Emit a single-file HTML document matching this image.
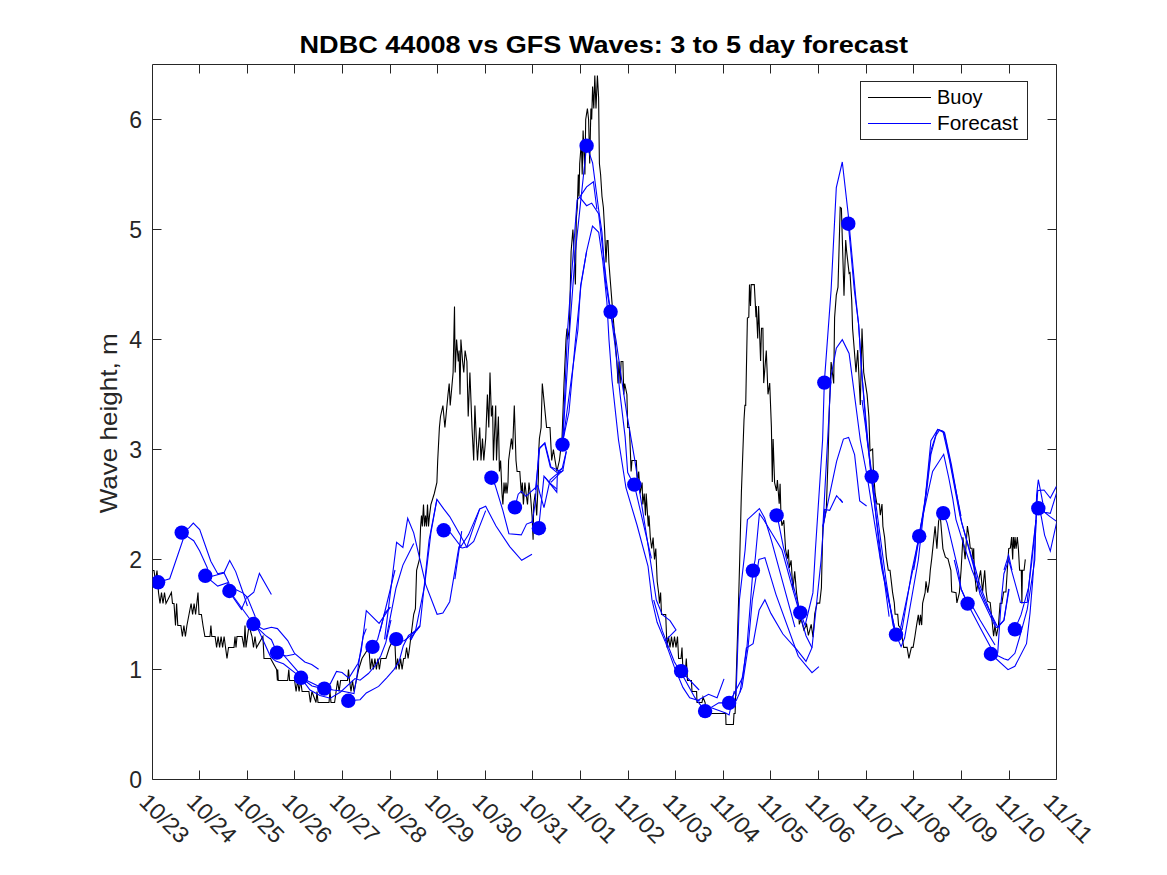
<!DOCTYPE html><html><head><meta charset="utf-8"><style>html,body{margin:0;padding:0;background:#fff;}svg{display:block;}text{font-family:"Liberation Sans",sans-serif;}</style></head><body>
<svg width="1167" height="875" viewBox="0 0 1167 875">
<rect width="1167" height="875" fill="#fff"/>
<defs><clipPath id="ax"><rect x="152.5" y="64.5" width="904" height="715"/></clipPath></defs>
<path d="M152.5,64.5H1056.5V779.5H152.5ZM199.5,779.5v-9M199.5,64.5v9M247.5,779.5v-9M247.5,64.5v9M294.5,779.5v-9M294.5,64.5v9M342.5,779.5v-9M342.5,64.5v9M390.5,779.5v-9M390.5,64.5v9M437.5,779.5v-9M437.5,64.5v9M485.5,779.5v-9M485.5,64.5v9M532.5,779.5v-9M532.5,64.5v9M580.5,779.5v-9M580.5,64.5v9M628.5,779.5v-9M628.5,64.5v9M675.5,779.5v-9M675.5,64.5v9M723.5,779.5v-9M723.5,64.5v9M770.5,779.5v-9M770.5,64.5v9M818.5,779.5v-9M818.5,64.5v9M866.5,779.5v-9M866.5,64.5v9M913.5,779.5v-9M913.5,64.5v9M961.5,779.5v-9M961.5,64.5v9M1009.5,779.5v-9M1009.5,64.5v9M152.5,779.5h9M1056.5,779.5h-9M152.5,669.5h9M1056.5,669.5h-9M152.5,559.5h9M1056.5,559.5h-9M152.5,449.5h9M1056.5,449.5h-9M152.5,339.5h9M1056.5,339.5h-9M152.5,229.5h9M1056.5,229.5h-9M152.5,119.5h9M1056.5,119.5h-9" fill="none" stroke="#262626" stroke-width="1"/>
<text x="142" y="787.7" font-size="23" fill="#262626" text-anchor="end">0</text>
<text x="142" y="677.7" font-size="23" fill="#262626" text-anchor="end">1</text>
<text x="142" y="567.7" font-size="23" fill="#262626" text-anchor="end">2</text>
<text x="142" y="457.7" font-size="23" fill="#262626" text-anchor="end">3</text>
<text x="142" y="347.7" font-size="23" fill="#262626" text-anchor="end">4</text>
<text x="142" y="237.7" font-size="23" fill="#262626" text-anchor="end">5</text>
<text x="142" y="127.7" font-size="23" fill="#262626" text-anchor="end">6</text>
<text transform="translate(138.0,803.2) rotate(45)" font-size="23" fill="#262626" textLength="58.9" lengthAdjust="spacingAndGlyphs">10/23</text>
<text transform="translate(185.57999999999998,803.2) rotate(45)" font-size="23" fill="#262626" textLength="58.9" lengthAdjust="spacingAndGlyphs">10/24</text>
<text transform="translate(233.16,803.2) rotate(45)" font-size="23" fill="#262626" textLength="58.9" lengthAdjust="spacingAndGlyphs">10/25</text>
<text transform="translate(280.74,803.2) rotate(45)" font-size="23" fill="#262626" textLength="58.9" lengthAdjust="spacingAndGlyphs">10/26</text>
<text transform="translate(328.32,803.2) rotate(45)" font-size="23" fill="#262626" textLength="58.9" lengthAdjust="spacingAndGlyphs">10/27</text>
<text transform="translate(375.9,803.2) rotate(45)" font-size="23" fill="#262626" textLength="58.9" lengthAdjust="spacingAndGlyphs">10/28</text>
<text transform="translate(423.48,803.2) rotate(45)" font-size="23" fill="#262626" textLength="58.9" lengthAdjust="spacingAndGlyphs">10/29</text>
<text transform="translate(471.06,803.2) rotate(45)" font-size="23" fill="#262626" textLength="58.9" lengthAdjust="spacingAndGlyphs">10/30</text>
<text transform="translate(518.64,803.2) rotate(45)" font-size="23" fill="#262626" textLength="58.9" lengthAdjust="spacingAndGlyphs">10/31</text>
<text transform="translate(566.22,803.2) rotate(45)" font-size="23" fill="#262626" textLength="58.9" lengthAdjust="spacingAndGlyphs">11/01</text>
<text transform="translate(613.8,803.2) rotate(45)" font-size="23" fill="#262626" textLength="58.9" lengthAdjust="spacingAndGlyphs">11/02</text>
<text transform="translate(661.38,803.2) rotate(45)" font-size="23" fill="#262626" textLength="58.9" lengthAdjust="spacingAndGlyphs">11/03</text>
<text transform="translate(708.96,803.2) rotate(45)" font-size="23" fill="#262626" textLength="58.9" lengthAdjust="spacingAndGlyphs">11/04</text>
<text transform="translate(756.54,803.2) rotate(45)" font-size="23" fill="#262626" textLength="58.9" lengthAdjust="spacingAndGlyphs">11/05</text>
<text transform="translate(804.12,803.2) rotate(45)" font-size="23" fill="#262626" textLength="58.9" lengthAdjust="spacingAndGlyphs">11/06</text>
<text transform="translate(851.6999999999999,803.2) rotate(45)" font-size="23" fill="#262626" textLength="58.9" lengthAdjust="spacingAndGlyphs">11/07</text>
<text transform="translate(899.28,803.2) rotate(45)" font-size="23" fill="#262626" textLength="58.9" lengthAdjust="spacingAndGlyphs">11/08</text>
<text transform="translate(946.86,803.2) rotate(45)" font-size="23" fill="#262626" textLength="58.9" lengthAdjust="spacingAndGlyphs">11/09</text>
<text transform="translate(994.4399999999999,803.2) rotate(45)" font-size="23" fill="#262626" textLength="58.9" lengthAdjust="spacingAndGlyphs">11/10</text>
<text transform="translate(1042.02,803.2) rotate(45)" font-size="23" fill="#262626" textLength="58.9" lengthAdjust="spacingAndGlyphs">11/11</text>
<text transform="translate(117,423.3) rotate(-90)" font-size="24.5" fill="#262626" text-anchor="middle" textLength="180" lengthAdjust="spacingAndGlyphs">Wave height, m</text>
<text x="603.8" y="53.1" font-size="23.5" font-weight="bold" fill="#000" text-anchor="middle" textLength="608.5" lengthAdjust="spacingAndGlyphs">NDBC 44008 vs GFS Waves: 3 to 5 day forecast</text>
<g clip-path="url(#ax)">
<polyline points="152.5,570.5 154.0,570.5 155.5,581.5 157.0,570.5 158.5,592.5 160.0,603.5 161.5,592.5 163.0,603.5 164.5,592.5 166.0,603.5 171.4,592.5 172.5,603.5 174.0,603.5 175.5,625.5 176.6,603.5 177.8,625.5 180.9,625.5 182.4,636.5 183.9,625.5 185.4,636.5 186.9,625.5 189.0,614.5 191.1,603.5 192.6,614.5 194.1,603.5 195.6,614.5 198.0,592.5 199.0,614.5 201.4,614.5 203.0,625.5 204.9,636.5 210.0,636.5 210.9,625.5 211.8,636.5 215.1,636.5 216.6,647.5 218.1,636.5 219.6,647.5 221.1,636.5 222.6,647.5 224.1,636.5 227.0,658.5 228.5,647.5 234.0,647.5 235.0,636.5 236.0,647.5 237.0,636.5 242.0,636.5 244.0,647.5 245.0,625.5 246.0,647.5 247.5,636.5 249.0,625.5 252.0,636.5 253.5,647.5 255.0,636.5 256.5,647.5 262.9,636.5 264.0,658.5 270.6,658.5 276.6,669.5 277.4,680.5 277.7,669.5 278.3,680.5 287.7,680.5 288.8,669.5 289.6,680.5 294.6,680.5 296.1,691.5 297.6,680.5 299.1,691.5 300.6,680.5 302.1,691.5 308.9,691.5 310.4,702.5 311.9,691.5 316.0,702.5 317.0,691.5 318.0,702.5 329.0,702.5 330.0,691.5 331.0,702.5 334.6,702.5 336.1,691.5 337.6,680.5 339.1,691.5 340.6,680.5 347.5,680.5 348.5,669.5 349.5,680.5 351.0,691.5 352.5,680.5 354.0,691.5 358.6,669.5 362.0,658.5 368.9,647.5 370.4,669.5 371.9,658.5 373.4,669.5 374.9,658.5 376.4,669.5 377.9,658.5 379.4,669.5 380.9,658.5 386.0,658.5 389.4,647.5 394.6,636.5 396.1,669.5 397.6,658.5 399.1,669.5 400.6,658.5 402.1,669.5 403.6,658.5 405.1,658.5 406.6,647.5 408.1,658.5 409.6,647.5 413.7,614.3 415.4,608.6 416.6,570.3 419.4,559.4 420.6,526.5 421.5,515.5 422.3,526.5 423.5,504.5 424.5,526.5 425.5,515.5 426.5,526.5 427.5,504.5 428.5,526.5 429.5,515.5 430.9,504.5 434.3,493.5 436.9,482.5 437.7,460.5 439.4,427.5 440.5,416.5 442.9,405.5 444.9,427.5 448.0,394.5 449.2,383.5 450.2,405.5 453.1,372.5 454.5,306.5 455.2,372.5 456.6,339.5 457.4,350.5 458.3,361.5 459.1,350.5 460.0,394.5 460.9,339.5 462.6,361.5 463.8,372.5 465.1,350.5 466.9,361.5 468.2,416.5 469.9,372.5 472.0,427.5 473.7,460.5 474.9,405.5 476.3,438.5 477.5,460.5 479.7,427.5 481.0,460.5 482.5,438.5 483.8,460.5 485.7,438.5 487.4,394.5 488.8,427.5 490.0,372.5 491.4,416.5 492.6,405.5 493.4,460.5 494.3,438.5 495.7,405.5 496.5,460.5 497.4,438.5 498.4,416.5 499.4,471.5 500.6,460.5 502.0,493.5 502.9,504.5 504.0,482.5 505.0,493.5 506.0,482.5 507.0,493.5 508.0,482.5 508.6,460.5 511.4,438.5 512.6,449.5 514.3,405.5 516.0,460.5 517.1,471.5 519.8,471.5 521.3,493.5 522.3,482.5 523.4,504.5 524.9,482.5 526.5,496.8 527.5,504.5 529.0,482.5 530.6,496.8 532.1,516.6 533.1,539.7 533.7,504.5 535.2,493.5 536.7,515.5 538.3,480.3 538.8,449.5 539.4,438.5 541.1,427.5 542.3,383.5 546.6,427.5 550.0,427.5 551.7,460.5 553.4,449.5 555.1,460.5 556.9,471.5 559.4,460.5 562.0,438.5 564.0,383.5 566.0,339.5 567.0,328.5 567.7,339.5 569.4,328.5 571.1,251.5 572.0,240.5 572.9,229.5 574.0,251.5 575.4,284.5 576.3,218.5 577.3,207.5 578.3,174.5 579.0,196.5 579.7,163.5 581.4,141.5 582.2,174.5 583.1,130.5 584.9,174.5 585.7,119.5 587.4,108.5 588.6,119.5 589.7,163.5 590.9,108.5 591.7,119.5 592.6,86.5 593.8,108.5 594.8,75.5 596.0,108.5 597.4,75.5 598.6,97.5 599.4,163.5 600.6,174.5 602.0,196.5 603.4,207.5 604.6,229.5 606.0,262.5 607.0,240.5 608.0,240.5 608.9,262.5 610.6,284.5 612.3,306.5 615.0,339.5 616.9,361.5 618.0,383.5 619.0,361.5 620.2,383.5 621.1,361.5 622.9,361.5 623.8,394.5 624.7,383.5 626.9,394.5 627.7,427.5 629.4,427.5 630.3,449.5 631.1,471.5 632.0,460.5 634.6,460.5 636.3,460.5 637.3,482.5 638.7,471.5 640.1,493.5 642.1,482.5 642.8,504.5 644.2,493.5 645.5,515.5 646.2,493.5 648.3,526.5 649.0,515.5 650.3,537.5 651.7,548.5 653.1,537.5 654.5,559.5 655.8,548.5 657.2,581.5 658.6,592.5 659.5,603.5 660.6,592.5 661.5,614.5 665.7,614.5 667.0,647.5 668.5,636.5 670.0,647.5 671.5,636.5 673.0,647.5 674.5,636.5 676.0,647.5 677.5,636.5 678.6,658.5 681.0,658.5 682.0,647.5 682.9,669.5 685.5,669.5 686.3,658.5 687.5,680.5 691.4,680.5 692.0,691.5 696.6,691.5 697.0,702.5 702.0,702.5 703.0,697.0 705.1,702.5 706.0,713.5 725.7,713.5 726.0,724.5 733.4,724.5 734.0,713.5 735.1,713.5 738.6,600.2 739.7,560.0 741.4,492.3 744.0,420.0 744.9,405.4 745.7,405.4 747.4,318.0 748.8,317.1 749.5,284.6 750.5,306.0 751.2,284.6 754.3,284.6 756.0,317.1 756.3,306.0 757.7,338.6 758.6,306.0 760.6,360.9 761.5,328.3 762.9,328.3 763.7,383.1 766.3,350.6 768.0,394.3 769.7,383.1 771.4,427.1 772.3,482.0 773.1,439.1 774.6,482.7 776.5,491.0 777.4,480.0 779.2,503.8 780.1,483.7 781.0,516.6 781.9,525.7 783.8,520.2 785.6,549.5 787.4,558.6 788.3,549.5 789.3,567.8 791.1,560.4 792.9,589.7 794.7,571.4 796.6,593.3 798.4,606.1 799.3,624.4 801.1,618.9 803.9,629.9 806.6,624.4 808.4,635.4 811.2,624.4 813.0,637.2 814.8,613.5 817.1,603.1 819.7,603.1 821.4,587.7 822.3,550.0 822.9,526.6 826.3,509.4 828.0,459.7 829.4,406.6 831.1,362.0 833.7,383.4 834.6,317.4 836.3,295.1 838.0,287.1 840.2,207.4 841.4,208.3 844.0,295.7 845.7,240.0 846.6,251.1 849.1,273.4 850.0,272.6 851.7,300.0 852.6,328.6 854.3,350.0 856.0,372.3 857.7,350.0 860.3,404.9 862.0,328.6 863.7,372.3 865.4,383.4 867.1,394.6 868.9,416.9 870.0,450.9 872.6,449.1 873.4,469.7 875.1,493.7 876.9,504.0 879.4,504.0 880.3,515.1 882.0,504.0 882.9,526.3 884.6,537.4 886.3,557.1 888.3,570.3 890.0,570.3 892.6,592.6 894.3,602.9 895.1,614.3 897.7,614.3 898.6,625.5 901.1,628.6 902.0,636.5 903.7,647.4 907.1,647.4 908.9,658.4 911.4,647.4 913.1,647.4 914.9,636.5 916.6,625.1 918.3,614.9 919.5,625.1 920.5,614.9 921.7,625.1 922.6,603.4 925.1,592.6 926.0,581.4 927.7,592.6 929.4,581.4 930.3,570.3 931.7,558.9 935.1,526.3 936.9,548.6 938.6,521.1 940.3,516.0 941.1,526.3 942.9,548.6 945.4,557.1 948.0,558.9 950.9,570.3 951.7,591.7 956.0,592.6 956.9,602.9 959.4,592.6 961.1,570.0 962.9,537.4 965.1,559.1 967.4,526.0 969.1,537.4 970.3,548.3 972.0,548.3 973.1,559.1 973.7,548.3 974.3,570.0 976.5,591.6 980.6,570.3 982.6,591.6 984.7,570.3 986.1,591.6 987.4,601.2 990.2,602.5 993.6,636.1 995.0,625.2 996.4,636.1 998.4,625.8 1000.1,603.4 1001.9,603.4 1003.6,592.0 1005.9,592.0 1008.7,548.6 1010.4,548.0 1011.6,537.1 1012.7,559.4 1013.3,537.1 1014.4,548.6 1015.0,537.1 1016.1,548.6 1017.3,537.1 1018.4,548.6 1019.6,570.3 1021.3,570.3 1021.9,603.4 1022.4,570.3 1024.1,570.3 1025.3,559.4" fill="none" stroke="#000" stroke-width="1.1" stroke-linejoin="miter"/>
<polyline points="158.1,582.3 169.7,578.8 183.0,539.8 181.7,532.6" fill="none" stroke="#0000ff" stroke-width="1.1"/>
<polyline points="181.7,532.6 189.0,527.9 193.3,523.1 199.7,529.6 210.8,561.3 217.7,573.7 224.1,572.4 229.7,560.4 235.7,571.6 243.1,592.7 247.4,606.0" fill="none" stroke="#0000ff" stroke-width="1.1"/>
<polyline points="181.7,532.6 193.7,540.7 199.7,551.0 207.4,568.1 205.3,575.8" fill="none" stroke="#0000ff" stroke-width="1.1"/>
<polyline points="205.3,575.8 212.1,576.3 224.1,573.0 228.8,582.7 229.4,591.0" fill="none" stroke="#0000ff" stroke-width="1.1"/>
<polyline points="205.3,575.8 217.7,586.1 227.6,582.7 229.4,591.0" fill="none" stroke="#0000ff" stroke-width="1.1"/>
<polyline points="229.4,591.0 236.3,589.7 243.1,593.1 247.4,597.4 253.8,592.3 259.4,573.4 271.4,594.4" fill="none" stroke="#0000ff" stroke-width="1.1"/>
<polyline points="229.4,591.0 233.7,598.3 241.4,609.4 246.6,597.4" fill="none" stroke="#0000ff" stroke-width="1.1"/>
<polyline points="229.4,591.0 253.4,624.0" fill="none" stroke="#0000ff" stroke-width="1.1"/>
<polyline points="247.4,597.4 255.1,616.3 253.4,624.0" fill="none" stroke="#0000ff" stroke-width="1.1"/>
<polyline points="253.9,624.3 263.7,629.4 271.4,627.3 277.4,628.6 287.7,640.6 294.6,653.4 304.8,662.0 311.7,664.6 318.6,669.3" fill="none" stroke="#0000ff" stroke-width="1.1"/>
<polyline points="253.9,624.3 265.4,635.4 271.4,639.7 277.0,652.6" fill="none" stroke="#0000ff" stroke-width="1.1"/>
<polyline points="277.0,652.6 286.0,656.0 294.6,654.3" fill="none" stroke="#0000ff" stroke-width="1.1"/>
<polyline points="253.9,624.3 258.6,630.3 270.6,656.8 275.7,661.1 283.4,663.7 295.4,673.1 301.0,677.8" fill="none" stroke="#0000ff" stroke-width="1.1"/>
<polyline points="277.0,652.6 284.3,656.0 297.1,670.6 301.0,677.8" fill="none" stroke="#0000ff" stroke-width="1.1"/>
<polyline points="301.0,677.8 312.0,683.0 324.3,688.9" fill="none" stroke="#0000ff" stroke-width="1.1"/>
<polyline points="301.0,677.8 312.0,686.0 324.3,688.9" fill="none" stroke="#0000ff" stroke-width="1.1"/>
<polyline points="301.0,677.8 310.0,690.0 320.0,695.6 330.3,698.2 340.6,692.0 355.0,678.6 360.1,680.2 368.4,673.5 375.6,665.3 380.7,656.0 385.8,642.6 391.0,620.0" fill="none" stroke="#0000ff" stroke-width="1.1"/>
<polyline points="324.1,688.4 330.3,683.8 336.5,671.4 342.1,672.5 348.8,678.1 358.1,663.2 361.2,650.9 366.3,610.6 379.1,623.4 390.3,607.1" fill="none" stroke="#0000ff" stroke-width="1.1"/>
<polyline points="324.1,688.4 333.4,690.0 341.6,691.0 354.0,693.6 357.0,675.6 360.1,654.0 363.2,636.5 366.3,628.6" fill="none" stroke="#0000ff" stroke-width="1.1"/>
<polyline points="348.3,700.8 360.1,699.7 366.3,693.0 378.6,686.4 386.9,677.6 394.1,669.4 399.2,661.2 403.3,645.7 408.5,635.4 416.7,630.3 420.0,626.2" fill="none" stroke="#0000ff" stroke-width="1.1"/>
<polyline points="372.5,646.7 377.6,639.5 382.8,620.0 395.0,570.0" fill="none" stroke="#0000ff" stroke-width="1.1"/>
<polyline points="396.1,639.0 404.0,641.0 410.0,636.0 420.0,626.0" fill="none" stroke="#0000ff" stroke-width="1.1"/>
<polyline points="380.0,631.4 384.6,613.1 390.3,607.4" fill="none" stroke="#0000ff" stroke-width="1.1"/>
<polyline points="384.6,639.4 396.6,542.3 402.9,547.4 407.7,518.3 413.7,532.9 418.9,555.1 425.7,584.6 437.1,614.3 442.9,613.1 449.7,601.7 458.9,546.9 462.3,548.0 466.9,546.9 479.7,508.9 485.7,506.3 496.0,526.0 509.7,546.6 521.7,560.3 532.0,554.3" fill="none" stroke="#0000ff" stroke-width="1.1"/>
<polyline points="386.0,639.4 396.0,588.0 402.9,565.1 413.7,543.4" fill="none" stroke="#0000ff" stroke-width="1.1"/>
<polyline points="409.7,639.4 420.0,625.7 429.1,540.0 436.9,499.4 443.7,508.9 449.7,516.6 460.9,536.3 466.9,547.4 473.7,541.4 485.7,510.6" fill="none" stroke="#0000ff" stroke-width="1.1"/>
<polyline points="410.9,640.0 415.4,631.4 424.6,585.7 430.9,532.9 436.9,499.4" fill="none" stroke="#0000ff" stroke-width="1.1"/>
<polyline points="443.7,530.3 450.6,532.9 460.9,546.6 468.6,534.6 479.7,508.9" fill="none" stroke="#0000ff" stroke-width="1.1"/>
<polyline points="454.9,579.2 461.7,531.1" fill="none" stroke="#0000ff" stroke-width="1.1"/>
<polyline points="491.4,477.7 495.1,484.9 502.9,510.6 508.9,533.7 521.3,534.9 526.5,524.1 532.1,522.0 538.8,528.2" fill="none" stroke="#0000ff" stroke-width="1.1"/>
<polyline points="514.9,507.4 518.2,494.2 521.3,491.2 525.9,496.3 537.8,485.5 539.8,493.2 544.0,507.6 550.1,479.8 557.3,473.7 563.5,470.6" fill="none" stroke="#0000ff" stroke-width="1.1"/>
<polyline points="532.1,522.0 535.2,503.5 538.9,449.1 544.6,443.4 550.3,466.9 557.1,472.6 562.3,468.0 566.3,451.4" fill="none" stroke="#0000ff" stroke-width="1.1"/>
<polyline points="538.8,528.2 539.3,522.0 544.0,476.2 556.8,492.2 557.3,475.7 559.4,470.6 562.5,468.5" fill="none" stroke="#0000ff" stroke-width="1.1"/>
<polyline points="535.4,490.0 539.7,448.0 544.9,442.9 550.9,466.9 562.0,472.0" fill="none" stroke="#0000ff" stroke-width="1.1"/>
<polyline points="544.9,477.1 550.9,484.0 556.9,489.2" fill="none" stroke="#0000ff" stroke-width="1.1"/>
<polyline points="550.9,482.3 562.9,470.3 566.3,451.4" fill="none" stroke="#0000ff" stroke-width="1.1"/>
<polyline points="562.5,444.6 567.6,330.0 577.1,200.0 579.7,197.1 586.6,186.9 593.4,181.7 596.9,209.2" fill="none" stroke="#0000ff" stroke-width="1.1"/>
<polyline points="562.5,444.6 569.7,330.0 575.4,251.4 586.6,145.7" fill="none" stroke="#0000ff" stroke-width="1.1"/>
<polyline points="563.0,440.0 569.0,412.0 575.0,345.0 581.0,285.0 586.6,251.4" fill="none" stroke="#0000ff" stroke-width="1.1"/>
<polyline points="562.5,444.6 566.9,412.2 577.9,330.0 580.6,285.7 586.6,251.4 592.5,226.2 598.7,232.3 602.8,261.1 606.9,302.2 609.0,340.0 612.0,380.0 618.5,440.0 626.0,488.0 637.0,525.0 648.0,566.0 652.0,600.0" fill="none" stroke="#0000ff" stroke-width="1.1"/>
<polyline points="579.7,197.1 586.6,205.7 591.7,203.1 598.6,213.7 602.0,242.9 606.3,280.6 610.6,311.8" fill="none" stroke="#0000ff" stroke-width="1.1"/>
<polyline points="586.6,145.7 589.1,152.6 592.6,162.9 598.6,209.2 602.0,232.6 605.5,281.6 610.3,311.5" fill="none" stroke="#0000ff" stroke-width="1.1"/>
<polyline points="610.6,311.8 615.0,345.0 620.0,393.7 625.1,436.6 627.7,472.6 630.3,477.8 634.3,484.6" fill="none" stroke="#0000ff" stroke-width="1.1"/>
<polyline points="610.6,311.8 616.0,340.0 621.7,380.0 626.9,414.3 634.6,458.9 637.2,476.0 645.7,530.0 649.7,556.0 656.3,600.0" fill="none" stroke="#0000ff" stroke-width="1.1"/>
<polyline points="634.3,484.6 651.4,558.3" fill="none" stroke="#0000ff" stroke-width="1.1"/>
<polyline points="652.0,600.0 657.1,622.3 665.7,642.9 674.3,666.9 682.9,687.4 689.7,697.7 700.0,701.1" fill="none" stroke="#0000ff" stroke-width="1.1"/>
<polyline points="653.7,600.0 662.3,630.9 674.3,661.7 684.6,678.9 694.9,697.7 705.1,711.1" fill="none" stroke="#0000ff" stroke-width="1.1"/>
<polyline points="656.3,600.0 662.3,614.6 670.0,620.6 676.0,630.0 664.9,641.1" fill="none" stroke="#0000ff" stroke-width="1.1"/>
<polyline points="681.1,671.1 699.1,690.0" fill="none" stroke="#0000ff" stroke-width="1.1"/>
<polyline points="696.6,701.1 708.6,694.3 717.1,697.7 724.0,678.9" fill="none" stroke="#0000ff" stroke-width="1.1"/>
<polyline points="705.1,711.1 718.8,702.9 729.1,702.9" fill="none" stroke="#0000ff" stroke-width="1.1"/>
<polyline points="712.0,708.0 725.7,713.1 729.1,715.0 734.3,690.9" fill="none" stroke="#0000ff" stroke-width="1.1"/>
<polyline points="729.1,702.9 742.9,677.1 746.3,648.0 753.1,643.7 759.1,610.3 764.9,599.7 770.9,613.4 782.9,634.0 796.6,649.4 806.0,661.4 812.0,647.7 821.1,560.0 824.6,509.4 829.7,510.3 836.6,495.7 842.6,502.6" fill="none" stroke="#0000ff" stroke-width="1.1"/>
<polyline points="736.0,701.1 742.0,687.4 748.0,648.0 752.3,600.0 758.9,559.4 764.9,557.7 776.0,594.6 798.3,656.3 812.0,672.6 818.9,666.6" fill="none" stroke="#0000ff" stroke-width="1.1"/>
<polyline points="736.0,696.0 739.4,600.0 745.1,550.0 747.4,519.7 759.4,508.6 764.6,518.0 771.4,540.3 794.9,627.1" fill="none" stroke="#0000ff" stroke-width="1.1"/>
<polyline points="740.0,692.3 746.9,647.7 752.9,570.6 755.1,560.0 759.4,513.7 763.7,519.7 782.0,550.0 791.4,584.3 806.0,635.7 812.0,647.7" fill="none" stroke="#0000ff" stroke-width="1.1"/>
<polyline points="776.6,515.4 778.3,521.4 783.4,547.1 800.3,612.6 805.1,625.4 812.9,592.9 815.4,550.0 822.6,440.0 824.3,382.6 831.1,290.0 836.3,187.7 842.3,162.0 848.3,215.1 856.0,300.0 858.6,324.3 862.0,375.7 870.9,474.9 882.9,570.0 889.1,616.6" fill="none" stroke="#0000ff" stroke-width="1.1"/>
<polyline points="822.9,526.6 831.1,375.7 836.3,348.3 842.3,339.7 849.1,353.4 860.3,440.0 867.1,476.0 882.0,570.0 896.0,634.6" fill="none" stroke="#0000ff" stroke-width="1.1"/>
<polyline points="822.9,526.6 836.6,461.4 843.4,439.1 848.6,437.4 854.6,454.6 859.7,500.9 866.6,506.0" fill="none" stroke="#0000ff" stroke-width="1.1"/>
<polyline points="848.3,223.7 854.3,290.0 858.6,324.3 862.0,375.7 867.1,440.0 871.7,476.6 880.6,560.0 896.0,634.6" fill="none" stroke="#0000ff" stroke-width="1.1"/>
<polyline points="840.0,498.9 842.6,502.3" fill="none" stroke="#0000ff" stroke-width="1.1"/>
<polyline points="896.0,634.6 901.1,646.6 904.6,638.0 918.3,560.0 925.7,493.7 930.9,440.6 937.7,429.4 942.9,431.1 949.7,461.1 960.0,516.0 974.6,570.0 980.0,594.3 995.4,626.9 997.1,627.7 1004.0,620.0 1009.1,589.1" fill="none" stroke="#0000ff" stroke-width="1.1"/>
<polyline points="899.4,633.7 914.9,560.0 920.6,526.3 932.6,471.4 943.7,454.3 948.8,478.0 952.8,498.8 956.0,519.6 962.4,540.4 972.0,570.0 984.7,601.2 997.7,627.2 1003.9,620.4 1008.7,588.8" fill="none" stroke="#0000ff" stroke-width="1.1"/>
<polyline points="902.0,630.0 912.0,570.0 919.2,536.2 925.0,500.0 931.0,450.0 937.7,429.4 944.0,432.0 950.0,461.0 961.0,516.0" fill="none" stroke="#0000ff" stroke-width="1.1"/>
<polyline points="862.0,400.0 870.0,460.0 878.0,520.0 886.0,580.0 893.0,625.0 896.0,634.6" fill="none" stroke="#0000ff" stroke-width="1.1"/>
<polyline points="913.7,570.0 920.6,529.7 926.6,492.0 930.9,454.3 936.0,435.4 939.4,430.3 944.6,432.9 951.4,464.6 961.7,522.9 975.4,570.0" fill="none" stroke="#0000ff" stroke-width="1.1"/>
<polyline points="943.2,513.1 947.1,522.9 958.3,570.0 961.1,589.1 967.7,603.7" fill="none" stroke="#0000ff" stroke-width="1.1"/>
<polyline points="954.3,560.0 961.1,589.1 967.7,603.7" fill="none" stroke="#0000ff" stroke-width="1.1"/>
<polyline points="967.5,603.6 980.6,628.6 990.9,647.8" fill="none" stroke="#0000ff" stroke-width="1.1"/>
<polyline points="970.0,602.0 980.0,620.0 995.0,645.0" fill="none" stroke="#0000ff" stroke-width="1.1"/>
<polyline points="973.1,560.0 980.0,585.7 995.4,625.1" fill="none" stroke="#0000ff" stroke-width="1.1"/>
<polyline points="990.9,654.0 998.4,656.0 1003.9,658.8 1008.0,660.1 1014.9,653.3 1019.7,636.8 1027.2,609.4 1031.3,583.3 1034.8,560.0 1036.6,495.1 1038.3,479.7 1040.6,491.1 1044.6,512.3 1050.3,513.4 1056.6,492.9" fill="none" stroke="#0000ff" stroke-width="1.1"/>
<polyline points="990.9,654.0 1008.0,669.7 1014.9,666.3 1026.5,643.7 1030.0,613.5 1032.7,580.6 1034.1,560.0 1037.7,490.6 1044.0,490.0 1050.3,498.0 1056.6,486.0" fill="none" stroke="#0000ff" stroke-width="1.1"/>
<polyline points="997.7,653.3 1001.2,601.2 1003.9,573.7 1008.7,560.0 1020.4,602.5 1027.2,602.5 1031.3,560.0 1036.0,520.0" fill="none" stroke="#0000ff" stroke-width="1.1"/>
<polyline points="1014.9,629.3 1021.0,614.9 1028.6,587.4 1032.0,560.0 1036.0,520.0" fill="none" stroke="#0000ff" stroke-width="1.1"/>
<polyline points="1004.0,570.0 1008.6,555.1 1012.0,570.0" fill="none" stroke="#0000ff" stroke-width="1.1"/>
<polyline points="1038.3,508.3 1041.1,515.7 1044.6,535.1 1050.3,551.1 1056.6,522.6" fill="none" stroke="#0000ff" stroke-width="1.1"/>
<polyline points="1044.6,512.3 1050.3,516.9 1056.6,521.4" fill="none" stroke="#0000ff" stroke-width="1.1"/>
<circle cx="158.1" cy="582.3" r="7.2" fill="#0000ff"/>
<circle cx="181.7" cy="532.6" r="7.2" fill="#0000ff"/>
<circle cx="205.3" cy="575.8" r="7.2" fill="#0000ff"/>
<circle cx="229.4" cy="591.0" r="7.2" fill="#0000ff"/>
<circle cx="253.4" cy="624.0" r="7.2" fill="#0000ff"/>
<circle cx="277.0" cy="652.6" r="7.2" fill="#0000ff"/>
<circle cx="301.0" cy="677.8" r="7.2" fill="#0000ff"/>
<circle cx="324.3" cy="688.6" r="7.2" fill="#0000ff"/>
<circle cx="348.3" cy="700.8" r="7.2" fill="#0000ff"/>
<circle cx="372.5" cy="646.9" r="7.2" fill="#0000ff"/>
<circle cx="396.2" cy="639.1" r="7.2" fill="#0000ff"/>
<circle cx="443.7" cy="530.3" r="7.2" fill="#0000ff"/>
<circle cx="491.4" cy="477.7" r="7.2" fill="#0000ff"/>
<circle cx="514.9" cy="507.4" r="7.2" fill="#0000ff"/>
<circle cx="538.9" cy="528.2" r="7.2" fill="#0000ff"/>
<circle cx="562.5" cy="444.6" r="7.2" fill="#0000ff"/>
<circle cx="586.6" cy="145.7" r="7.2" fill="#0000ff"/>
<circle cx="610.6" cy="311.8" r="7.2" fill="#0000ff"/>
<circle cx="634.3" cy="484.6" r="7.2" fill="#0000ff"/>
<circle cx="681.1" cy="671.1" r="7.2" fill="#0000ff"/>
<circle cx="705.1" cy="711.1" r="7.2" fill="#0000ff"/>
<circle cx="729.1" cy="702.9" r="7.2" fill="#0000ff"/>
<circle cx="752.9" cy="570.6" r="7.2" fill="#0000ff"/>
<circle cx="776.6" cy="515.4" r="7.2" fill="#0000ff"/>
<circle cx="800.3" cy="612.6" r="7.2" fill="#0000ff"/>
<circle cx="824.3" cy="382.6" r="7.2" fill="#0000ff"/>
<circle cx="848.3" cy="223.7" r="7.2" fill="#0000ff"/>
<circle cx="871.7" cy="476.6" r="7.2" fill="#0000ff"/>
<circle cx="896.0" cy="634.6" r="7.2" fill="#0000ff"/>
<circle cx="919.2" cy="536.2" r="7.2" fill="#0000ff"/>
<circle cx="943.2" cy="513.1" r="7.2" fill="#0000ff"/>
<circle cx="967.6" cy="603.6" r="7.2" fill="#0000ff"/>
<circle cx="990.9" cy="654.0" r="7.2" fill="#0000ff"/>
<circle cx="1014.9" cy="629.3" r="7.2" fill="#0000ff"/>
<circle cx="1038.3" cy="508.3" r="7.2" fill="#0000ff"/>
</g>
<rect x="860.5" y="81.5" width="167" height="58" fill="#fff" stroke="#262626" stroke-width="1"/>
<path d="M868,97.5H931" stroke="#000" stroke-width="1.1"/>
<path d="M868,123.5H931" stroke="#0000ff" stroke-width="1.1"/>
<text x="937" y="104.2" font-size="20" fill="#000">Buoy</text>
<text x="937" y="130" font-size="20" fill="#000" textLength="81" lengthAdjust="spacingAndGlyphs">Forecast</text>
</svg></body></html>
